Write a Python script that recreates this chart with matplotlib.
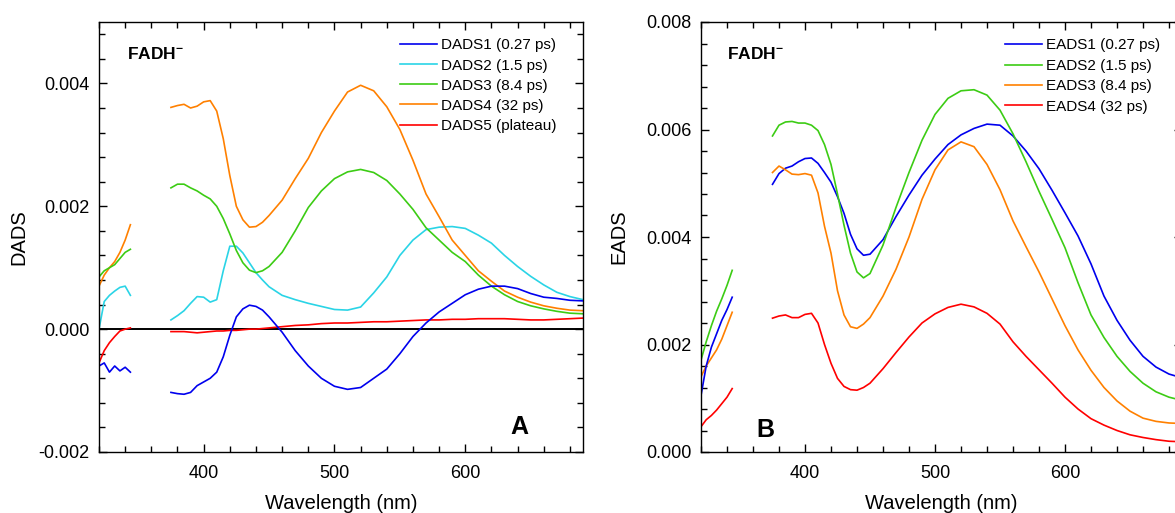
import numpy as np
import matplotlib
matplotlib.use("Agg")
import matplotlib.pyplot as plt
from matplotlib.ticker import MultipleLocator, FormatStrFormatter

plt.rcParams['font.family'] = ['Liberation Sans', 'DejaVu Sans']
plt.rcParams['mathtext.fontset'] = 'custom'
plt.rcParams['mathtext.rm'] = 'Liberation Sans'
plt.rcParams['mathtext.bf'] = 'Liberation Sans:bold'

# ---------------- data (values in units of 1e-3) ----------------
wl_uv = [320, 324, 328, 332, 336, 340, 344]
wl_vis = [375, 380, 385, 390, 395, 400, 405, 410, 415, 420, 425, 430, 435, 440,
          445, 450, 460, 470, 480, 490, 500, 510, 520, 530, 540, 550, 560, 570,
          580, 590, 600, 610, 620, 630, 640, 650, 660, 670, 680, 690]

dads_labels = ["DADS1 (0.27 ps)", "DADS2 (1.5 ps)", "DADS3 (8.4 ps)",
               "DADS4 (32 ps)", "DADS5 (plateau)"]
dads1_uv = [-0.60, -0.55, -0.70, -0.60, -0.68, -0.62, -0.70]
dads2_uv = [0.00, 0.45, 0.55, 0.62, 0.68, 0.70, 0.55]
dads3_uv = [0.85, 0.95, 1.00, 1.05, 1.15, 1.25, 1.30]
dads4_uv = [0.70, 0.88, 1.00, 1.10, 1.25, 1.45, 1.70]
dads5_uv = [-0.55, -0.35, -0.22, -0.12, -0.03, 0.00, 0.02]

dads1_vis = [-1.03, -1.05, -1.06, -1.03, -0.92, -0.86, -0.80, -0.70, -0.45, -0.10,
             0.20, 0.33, 0.39, 0.37, 0.31, 0.20, -0.05, -0.35, -0.60, -0.80,
             -0.93, -0.98, -0.95, -0.80, -0.65, -0.40, -0.12, 0.10, 0.28, 0.42,
             0.56, 0.65, 0.70, 0.70, 0.66, 0.58, 0.52, 0.50, 0.47, 0.46]
dads2_vis = [0.15, 0.22, 0.30, 0.42, 0.53, 0.52, 0.44, 0.48, 0.95, 1.35,
             1.35, 1.24, 1.08, 0.92, 0.80, 0.69, 0.55, 0.48, 0.42, 0.37,
             0.32, 0.31, 0.36, 0.59, 0.85, 1.20, 1.45, 1.62, 1.66, 1.67,
             1.64, 1.53, 1.40, 1.20, 1.02, 0.86, 0.72, 0.60, 0.53, 0.48]
dads3_vis = [2.30, 2.36, 2.36, 2.30, 2.25, 2.18, 2.12, 2.00, 1.80, 1.55,
             1.28, 1.08, 0.96, 0.92, 0.95, 1.02, 1.25, 1.60, 1.98, 2.25,
             2.45, 2.56, 2.60, 2.55, 2.42, 2.20, 1.95, 1.65, 1.45, 1.25,
             1.10, 0.88, 0.70, 0.56, 0.45, 0.38, 0.33, 0.29, 0.26, 0.25]
dads4_vis = [3.61, 3.64, 3.66, 3.60, 3.63, 3.70, 3.72, 3.55, 3.10, 2.50,
             2.00, 1.78, 1.66, 1.67, 1.74, 1.85, 2.10, 2.45, 2.78, 3.20,
             3.55, 3.86, 3.97, 3.88, 3.62, 3.25, 2.75, 2.20, 1.83, 1.45,
             1.20, 0.95, 0.78, 0.62, 0.52, 0.44, 0.38, 0.34, 0.31, 0.30]
dads5_vis = [-0.04, -0.04, -0.04, -0.05, -0.06, -0.05, -0.04, -0.03, -0.03, -0.02,
             -0.02, -0.01, 0.00, 0.00, 0.01, 0.02, 0.04, 0.06, 0.07, 0.09,
             0.10, 0.10, 0.11, 0.12, 0.12, 0.13, 0.14, 0.15, 0.15, 0.16,
             0.16, 0.17, 0.17, 0.17, 0.16, 0.15, 0.15, 0.16, 0.17, 0.18]

eads_labels = ["EADS1 (0.27 ps)", "EADS2 (1.5 ps)", "EADS3 (8.4 ps)", "EADS4 (32 ps)"]
eads1_uv = [1.05, 1.60, 1.95, 2.20, 2.45, 2.65, 2.88]
eads2_uv = [1.71, 2.05, 2.35, 2.62, 2.85, 3.10, 3.38]
eads3_uv = [1.40, 1.60, 1.75, 1.90, 2.10, 2.35, 2.60]
eads4_uv = [0.47, 0.60, 0.68, 0.78, 0.90, 1.02, 1.18]

eads1_vis = [4.98, 5.18, 5.28, 5.32, 5.40, 5.46, 5.47, 5.37, 5.20, 5.02,
             4.75, 4.44, 4.05, 3.78, 3.66, 3.68, 3.95, 4.38, 4.78, 5.15,
             5.45, 5.72, 5.90, 6.02, 6.10, 6.08, 5.88, 5.60, 5.27, 4.87,
             4.45, 4.02, 3.50, 2.90, 2.45, 2.08, 1.78, 1.58, 1.45, 1.38]
eads2_vis = [5.88, 6.08, 6.14, 6.15, 6.12, 6.12, 6.08, 5.98, 5.72, 5.35,
             4.80, 4.22, 3.70, 3.35, 3.24, 3.32, 3.85, 4.55, 5.20, 5.80,
             6.28, 6.58, 6.72, 6.74, 6.64, 6.36, 5.92, 5.40, 4.85, 4.33,
             3.80, 3.15, 2.55, 2.13, 1.78, 1.50, 1.28, 1.12, 1.02, 0.96]
eads3_vis = [5.20, 5.32, 5.25, 5.17, 5.16, 5.18, 5.15, 4.82, 4.20, 3.70,
             3.00, 2.55, 2.33, 2.30, 2.38, 2.50, 2.90, 3.40, 4.00, 4.70,
             5.25, 5.62, 5.77, 5.68, 5.35, 4.88, 4.30, 3.82, 3.35, 2.85,
             2.35, 1.90, 1.52, 1.20, 0.95, 0.76, 0.63, 0.57, 0.54, 0.53]
eads4_vis = [2.49, 2.53, 2.55, 2.50, 2.50, 2.56, 2.58, 2.40, 2.00, 1.65,
             1.37, 1.22, 1.16, 1.15, 1.20, 1.28, 1.55, 1.85, 2.14, 2.40,
             2.57, 2.69, 2.75, 2.70, 2.58, 2.38, 2.05, 1.78, 1.53, 1.28,
             1.02, 0.80, 0.62, 0.50, 0.40, 0.32, 0.27, 0.23, 0.20, 0.19]

dads_colors = ['#0000ee', '#2ad4e6', '#3ccc14', '#ff8000', '#ff0000']
eads_colors = ['#0000ee', '#3ccc14', '#ff8000', '#ff0000']

SCALE = 1e-3

fig = plt.figure(figsize=(11.75, 5.13), dpi=100)
axA = fig.add_axes([99/1175, 1-452/513, 484/1175, 430/513])
axB = fig.add_axes([701/1175, 1-452/513, 481/1175, 430/513])


def style(ax, ymaj, ymin):
    ax.xaxis.set_major_locator(MultipleLocator(100))
    ax.xaxis.set_minor_locator(MultipleLocator(20))
    ax.yaxis.set_major_locator(MultipleLocator(ymaj))
    ax.yaxis.set_minor_locator(MultipleLocator(ymin))
    ax.yaxis.set_major_formatter(FormatStrFormatter('%.3f'))
    ax.tick_params(which='both', direction='in', top=True, right=True,
                   labelsize=13, width=1.0)
    ax.tick_params(which='major', length=6)
    ax.tick_params(which='minor', length=4)
    ax.tick_params(axis='x', pad=9)
    ax.tick_params(axis='y', pad=7)
    for s in ax.spines.values():
        s.set_linewidth(1.0)
    ax.set_xlim(320, 690)
    ax.set_xlabel("Wavelength (nm)", fontsize=14.5, labelpad=9)


# Panel A
uvA = [dads1_uv, dads2_uv, dads3_uv, dads4_uv, dads5_uv]
visA = [dads1_vis, dads2_vis, dads3_vis, dads4_vis, dads5_vis]
axA.axhline(0, color='black', lw=1.4, zorder=1)
for i in [3, 2, 1, 0, 4]:
    axA.plot(wl_uv, np.array(uvA[i]) * SCALE, color=dads_colors[i], lw=1.2, zorder=2)
for i in range(5):
    axA.plot(wl_vis, np.array(visA[i]) * SCALE, color=dads_colors[i], lw=1.2,
             label=dads_labels[i], zorder=2 + (0 if i != 0 else 1))
style(axA, 0.002, 0.0004)
axA.set_ylim(-0.002, 0.005)
axA.set_ylabel("DADS", fontsize=14.5)
axA.yaxis.set_label_coords(-0.145, 0.5)
axA.text(0.058, 0.925, r"FADH$^{\mathbf{-}}$", transform=axA.transAxes,
         fontsize=12.5, fontweight='bold', va='center', ha='left')
axA.text(0.85, 0.058, "A", transform=axA.transAxes, fontsize=18,
         fontweight='bold', ha='left', va='center')
hA, lA = axA.get_legend_handles_labels()
axA.legend(hA, lA, loc='upper right', bbox_to_anchor=(0.964, 0.983), frameon=False,
           fontsize=11, handlelength=2.45, handletextpad=0.25, labelspacing=0.4,
           borderaxespad=0.2)

# Panel B
uvB = [eads1_uv, eads2_uv, eads3_uv, eads4_uv]
visB = [eads1_vis, eads2_vis, eads3_vis, eads4_vis]
for i in [3, 2, 1, 0]:
    axB.plot(wl_uv, np.array(uvB[i]) * SCALE, color=eads_colors[i], lw=1.2)
for i in range(4):
    axB.plot(wl_vis, np.array(visB[i]) * SCALE, color=eads_colors[i], lw=1.2,
             label=eads_labels[i])
style(axB, 0.002, 0.0004)
axB.set_ylim(0.0, 0.008)
axB.set_ylabel("EADS", fontsize=14.5)
axB.yaxis.set_label_coords(-0.15, 0.5)
axB.text(0.055, 0.925, r"FADH$^{\mathbf{-}}$", transform=axB.transAxes,
         fontsize=12.5, fontweight='bold', va='center', ha='left')
axB.text(0.115, 0.052, "B", transform=axB.transAxes, fontsize=18,
         fontweight='bold', ha='left', va='center')
hB, lB = axB.get_legend_handles_labels()
axB.legend(hB, lB, loc='upper left', bbox_to_anchor=(0.612, 0.983), frameon=False,
           fontsize=11, handlelength=2.45, handletextpad=0.25, labelspacing=0.42,
           borderaxespad=0.2)

fig.savefig("out.png", dpi=100)
